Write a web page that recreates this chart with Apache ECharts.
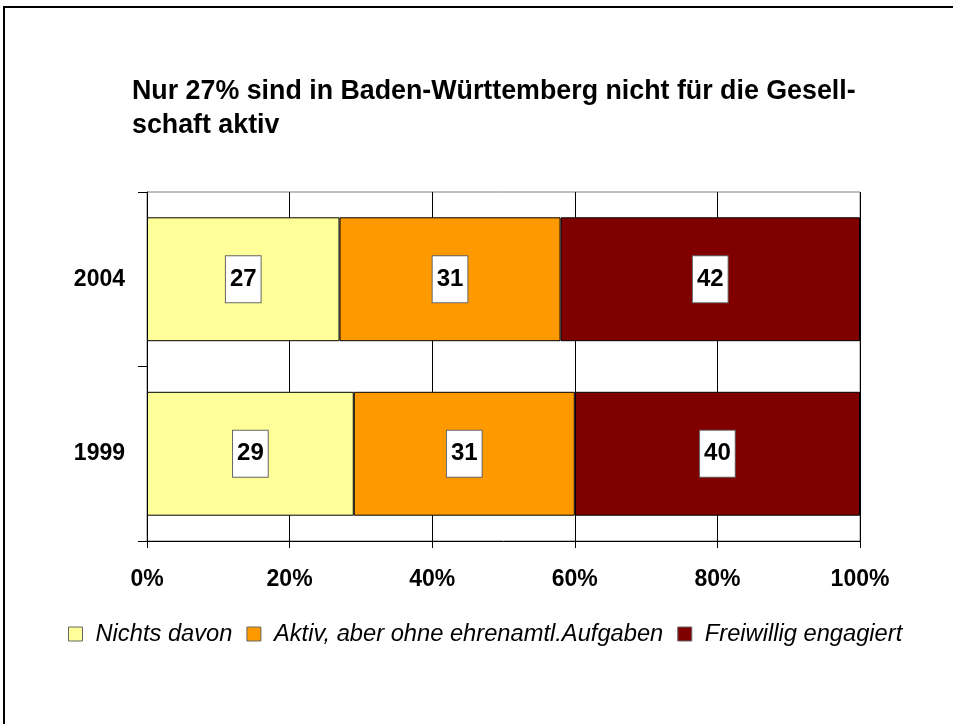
<!DOCTYPE html>
<html>
<head>
<meta charset="utf-8">
<script src="https://cdn.jsdelivr.net/npm/echarts@6/dist/echarts.min.js"></script>
<style>
    html, body { margin: 0; padding: 0; background: #fff; }
    #chart { width: 953px; height: 724px; }
</style>
</head>
<body>
<div id="chart"></div>
<script>
    // Jahre (oben 2004, unten 1999)
    const years = ['2004', '1999']
    const nichtsDavon = [27, 29]
    const aktivOhne = [31, 31]
    const freiwillig = [42, 40]
    const seriesNames = ['Nichts davon', 'Aktiv, aber ohne ehrenamtl.Aufgaben', 'Freiwillig engagiert']
    const seriesColors = ['#FFFF99', '#FF9900', '#800000']

    let myChart = echarts.init(document.getElementById('chart'))

    function makeSeries(name, color, data) {
        return {
            name: name,
            type: 'bar',
            stack: 'total',
            barCategoryGap: '29%',
            data: data,
            itemStyle: {
                color: color,
                borderColor: '#000',
                borderWidth: 1
            },
            label: {
                show: true,
                position: 'inside',
                color: '#000',
                fontSize: 24,
                fontWeight: 'bold',
                fontFamily: 'Liberation Sans',
                backgroundColor: '#fff',
                borderColor: '#666',
                borderWidth: 1,
                padding: [10, 4, 10, 4],
                lineHeight: 26
            }
        }
    }

    let options = {
        animation: false,
        textStyle: { fontFamily: 'Liberation Sans' },
        title: {
            text: 'Nur 27% sind in Baden-Württemberg nicht für die Gesell-\nschaft aktiv',
            left: 127,
            top: 70,
            textStyle: {
                fontSize: 26.8,
                fontWeight: 'bold',
                color: '#000',
                lineHeight: 34,
                fontFamily: 'Liberation Sans'
            }
        },
        legend: {
            left: 63,
            top: 617,
            itemWidth: 14,
            itemHeight: 14,
            itemGap: 14,
            icon: 'rect',
            data: seriesNames.map((n, i) => ({
                name: n,
                itemStyle: { color: seriesColors[i], borderColor: '#666', borderWidth: 1 }
            })),
            textStyle: {
                fontSize: 23.7,
                fontStyle: 'italic',
                color: '#000',
                padding: [0, 0, 0, 8],
                fontFamily: 'Liberation Sans'
            }
        },
        grid: {
            left: 147,
            right: 93,
            top: 192,
            bottom: 183,
            show: true,
            borderColor: '#808080',
            borderWidth: 1,
            containLabel: false
        },
        xAxis: {
            type: 'value',
            min: 0,
            max: 100,
            interval: 20,
            axisLine: { show: true, lineStyle: { color: '#000', width: 1 } },
            axisTick: { show: true, length: 7, lineStyle: { color: '#000' } },
            axisLabel: {
                formatter: '{value}%',
                fontSize: 23,
                fontWeight: 'bold',
                color: '#000',
                margin: 27
            },
            splitLine: { show: true, lineStyle: { color: '#000', width: 1 } }
        },
        yAxis: {
            type: 'category',
            data: years,
            inverse: true,
            axisLine: { show: true, lineStyle: { color: '#000', width: 1 } },
            axisTick: { show: true, length: 9, lineStyle: { color: '#000' } },
            axisLabel: {
                fontSize: 23,
                fontWeight: 'bold',
                color: '#000',
                margin: 22
            },
            splitLine: { show: false }
        },
        graphic: [{
            type: 'rect',
            shape: { x: 4, y: 7, width: 1000, height: 800 },
            style: { fill: 'none', stroke: '#000', lineWidth: 2 },
            silent: true
        }],
        series: [
            makeSeries(seriesNames[0], seriesColors[0], nichtsDavon),
            makeSeries(seriesNames[1], seriesColors[1], aktivOhne),
            makeSeries(seriesNames[2], seriesColors[2], freiwillig)
        ]
    }
    myChart.setOption(options)
</script>
</body>
</html>
